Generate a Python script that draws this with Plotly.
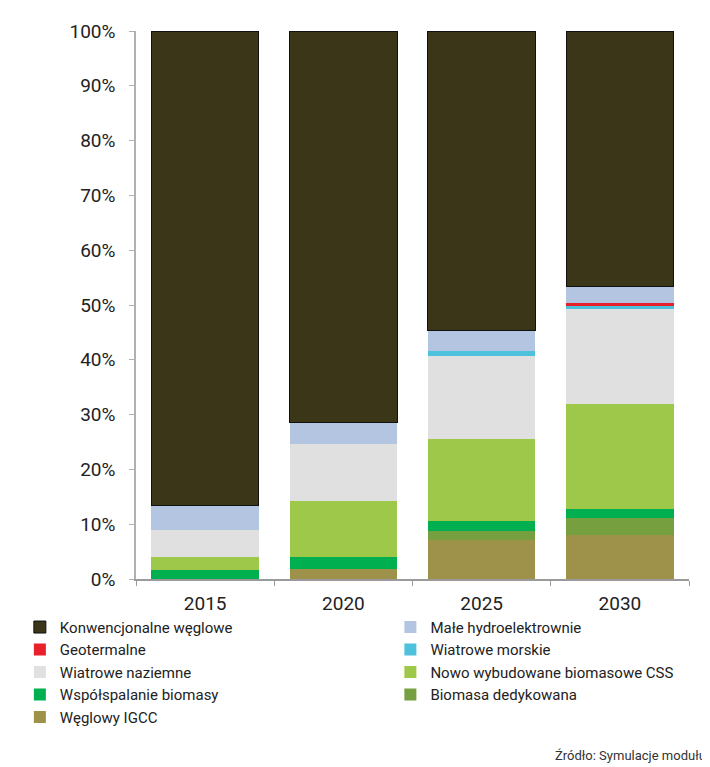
import plotly.graph_objects as go

years = ["2015", "2020", "2025", "2030"]

# series (bottom to top of stack), values in percent
igcc = [0.0, 1.8, 7.2, 8.0]
biomasa_ded = [0.0, 0.0, 1.5, 3.1]
wspolspalanie = [1.7, 2.3, 1.8, 1.7]
nowo_css = [2.4, 10.1, 15.1, 19.1]
wiatr_naziemne = [4.8, 10.4, 15.1, 17.3]
wiatr_morskie = [0.0, 0.0, 0.9, 0.7]
geotermalne = [0.0, 0.0, 0.0, 0.4]
male_hydro = [4.5, 3.9, 3.8, 3.1]
konwencjonalne = [86.6, 71.5, 54.6, 46.6]

tick_vals = [0, 10, 20, 30, 40, 50, 60, 70, 80, 90, 100]
tick_text = ["0%", "10%", "20%", "30%", "40%", "50%", "60%", "70%", "80%", "90%", "100%"]

series = [
    ("Węglowy IGCC", igcc, "#9E9149", "legend"),
    ("Biomasa dedykowana", biomasa_ded, "#76A03F", "legend2"),
    ("Współspalanie biomasy", wspolspalanie, "#00B050", "legend"),
    ("Nowo wybudowane biomasowe CSS", nowo_css, "#9DC84A", "legend2"),
    ("Wiatrowe naziemne", wiatr_naziemne, "#E0E0E0", "legend"),
    ("Wiatrowe morskie", wiatr_morskie, "#4EC2DC", "legend2"),
    ("Geotermalne", geotermalne, "#E8202A", "legend"),
    ("Małe hydroelektrownie", male_hydro, "#B4C5E2", "legend2"),
    ("Konwencjonalne węglowe", konwencjonalne, "#3C3618", "legend"),
]

FONT = "Roboto, DejaVu Sans, sans-serif"

fig = go.Figure()
for name, vals, color, leg in series:
    line = dict(width=1, color="#111111") if name == "Konwencjonalne węglowe" else dict(width=0)
    fig.add_trace(go.Bar(
        x=years, y=vals, name=name, marker=dict(color=color, line=line),
        legend=leg,
    ))

legend_common = dict(
    orientation="v", traceorder="reversed",
    font=dict(family=FONT, size=15, color="#222222"),
    bgcolor="rgba(0,0,0,0)", itemclick=False, itemdoubleclick=False,
    xanchor="left", yanchor="top", tracegroupgap=0, itemwidth=30,
)

fig.update_layout(
    width=702, height=759,
    margin=dict(l=118, r=21, t=19, b=188),
    paper_bgcolor="white", plot_bgcolor="white",
    barmode="stack", bargap=0.223,
    font=dict(family=FONT, size=18, color="#222222"),
    xaxis=dict(
        showline=True, linecolor="#9a9a9a", linewidth=2,
        ticks="outside", tickson="boundaries", ticklen=5, tickcolor="#9a9a9a",
        ticklabelstandoff=6,
        tickfont=dict(family=FONT, size=19, color="#222222"),
    ),
    yaxis=dict(
        range=[0, 100], tickvals=tick_vals, ticktext=tick_text,
        showline=True, linecolor="#b0b0b0", linewidth=1.5,
        ticks="outside", ticklen=5, tickcolor="#b0b0b0",
        ticklabelstandoff=10,
        showgrid=False, zeroline=False,
        tickfont=dict(family=FONT, size=19, color="#222222"),
    ),
    legend=dict(x=-0.21, y=-0.058, **legend_common),
    legend2=dict(x=0.460, y=-0.058, **legend_common),
    annotations=[dict(
        text="Źródło: Symulacje modułu", xref="paper", yref="paper",
        x=1.034, y=-0.3225, xanchor="right", yanchor="middle", showarrow=False,
        font=dict(family=FONT, size=13, color="#333333"),
    )],
)

fig.write_html("out.html")
